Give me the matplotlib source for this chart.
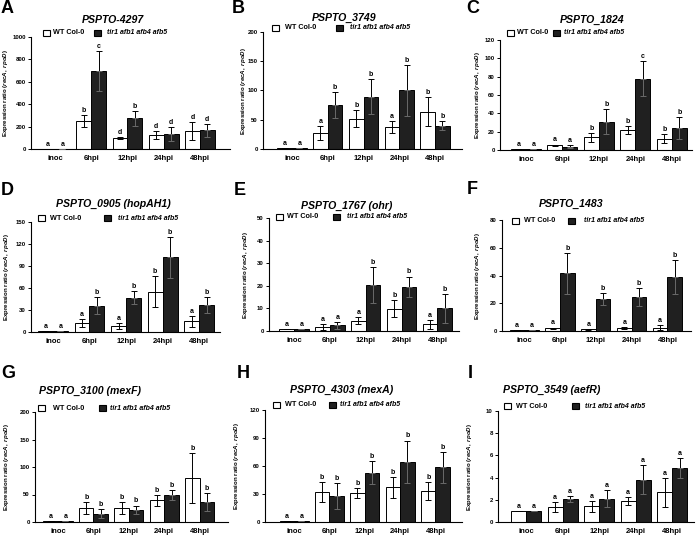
import matplotlib
matplotlib.use('Agg')
import matplotlib.pyplot as plt
from matplotlib.patches import Rectangle

plt.rcParams['font.family'] = ['Liberation Sans', 'DejaVu Sans']
plt.rcParams['font.weight'] = 'bold'
plt.rcParams['mathtext.fontset'] = 'custom'
plt.rcParams['mathtext.it'] = 'Liberation Sans:italic:bold'
plt.rcParams['mathtext.rm'] = 'Liberation Sans:bold'

W, H = 696, 537
categories = ['inoc', '6hpi', '12hpi', '24hpi', '48hpi']
legend_labels = ['WT Col-0', 'tir1 afb1 afb4 afb5']
ylabel_text = r'Expression ratio ($\it{recA},\ \it{rpoD}$)'

# ---- Panel A
A_title = 'PSPTO-4297'
A_wt = [1, 252, 98, 125, 160]
A_wt_err = [0, 52, 12, 38, 80]
A_mut = [1, 697, 273, 133, 169]
A_mut_err = [0, 175, 70, 65, 58]
A_wt_sig = ['a', 'b', 'd', 'd', 'd']
A_mut_sig = ['a', 'c', 'b', 'd', 'd']
A_yticks = [0, 200, 400, 600, 800, 1000]

# ---- Panel B
B_title = 'PSPTO_3749'
B_wt = [1, 28, 52, 37, 64]
B_wt_err = [0, 12, 14, 10.5, 25]
B_mut = [1, 75, 89, 100, 40]
B_mut_err = [0, 22, 30, 43, 8]
B_wt_sig = ['a', 'a', 'b', 'a', 'b']
B_mut_sig = ['a', 'b', 'b', 'b', 'b']
B_yticks = [0, 50, 100, 150, 200]

# ---- Panel C
C_title = 'PSPTO_1824'
C_wt = [1, 5, 13.8, 22, 12.4]
C_wt_err = [0, 1, 5, 4.5, 5]
C_mut = [1, 3.6, 31, 78, 23.6]
C_mut_err = [0, 1.5, 14, 19, 12]
C_wt_sig = ['a', 'a', 'b', 'b', 'b']
C_mut_sig = ['a', 'a', 'b', 'c', 'b']
C_yticks = [0, 20, 40, 60, 80, 100, 120]

# ---- Panel D
D_title = 'PSPTO_0905 (hopAH1)'
D_wt = [1, 11.8, 8, 55, 14.5]
D_wt_err = [0, 5.5, 4, 21.5, 7]
D_mut = [1, 36, 47, 102, 37]
D_mut_err = [0, 11.5, 9, 28, 11]
D_wt_sig = ['a', 'a', 'a', 'b', 'a']
D_mut_sig = ['a', 'b', 'b', 'b', 'b']
D_yticks = [0, 30, 60, 90, 120, 150]

# ---- Panel E
E_title = 'PSPTO_1767 (ohr)'
E_wt = [1, 1.8, 4.6, 9.8, 3]
E_wt_err = [0, 1.4, 1.6, 3.8, 2]
E_mut = [1, 2.5, 20.3, 19.5, 10]
E_mut_err = [0, 1.5, 8, 4.6, 6.5]
E_wt_sig = ['a', 'a', 'a', 'b', 'a']
E_mut_sig = ['a', 'a', 'b', 'b', 'b']
E_yticks = [0, 10, 20, 30, 40, 50]

# ---- Panel F
F_title = 'PSPTO_1483'
F_wt = [1, 2, 1.2, 2, 2.4]
F_wt_err = [0, 0.5, 0.3, 0.8, 1.8]
F_mut = [0.8, 41.5, 23, 24.6, 39]
F_mut_err = [0, 14.7, 4.5, 6.6, 12.4]
F_wt_sig = ['a', 'a', 'a', 'a', 'a']
F_mut_sig = ['a', 'b', 'b', 'b', 'b']
F_yticks = [0, 20, 40, 60, 80]

# ---- Panel G
G_title = 'PSPTO_3100 (mexF)'
G_wt = [1, 25, 25, 39.5, 80]
G_wt_err = [0, 11, 11, 10, 46]
G_mut = [1, 15, 22.5, 48.6, 36.5]
G_mut_err = [0, 8, 7.5, 9, 16]
G_wt_sig = ['a', 'b', 'b', 'b', 'b']
G_mut_sig = ['a', 'b', 'b', 'b', 'b']
G_yticks = [0, 50, 100, 150, 200]

# ---- Panel H
H_title = 'PSPTO_4303 (mexA)'
H_wt = [1, 32, 30.6, 37, 33.5]
H_wt_err = [0, 10.5, 5.3, 11.5, 9.6]
H_mut = [1, 28, 53, 64.8, 58.4]
H_mut_err = [0, 14, 12, 22.5, 17]
H_wt_sig = ['a', 'b', 'b', 'b', 'b']
H_mut_sig = ['a', 'b', 'b', 'b', 'b']
H_yticks = [0, 30, 60, 90, 120]

# ---- Panel I
I_title = 'PSPTO_3549 (aefR)'
I_wt = [1, 1.35, 1.4, 1.89, 2.66]
I_wt_err = [0, 0.48, 0.5, 0.33, 1.33]
I_mut = [1, 2.07, 2.1, 3.8, 4.85]
I_mut_err = [0, 0.24, 0.76, 1.3, 0.9]
I_wt_sig = ['a', 'a', 'a', 'a', 'a']
I_mut_sig = ['a', 'a', 'a', 'a', 'a']
I_yticks = [0, 2, 4, 6, 8, 10]

panel_letters = ['A', 'B', 'C', 'D', 'E', 'F', 'G', 'H', 'I']
titles = [A_title, B_title, C_title, D_title, E_title, F_title, G_title, H_title, I_title]
wts = [A_wt, B_wt, C_wt, D_wt, E_wt, F_wt, G_wt, H_wt, I_wt]
wt_errs = [A_wt_err, B_wt_err, C_wt_err, D_wt_err, E_wt_err, F_wt_err, G_wt_err, H_wt_err, I_wt_err]
muts = [A_mut, B_mut, C_mut, D_mut, E_mut, F_mut, G_mut, H_mut, I_mut]
mut_errs = [A_mut_err, B_mut_err, C_mut_err, D_mut_err, E_mut_err, F_mut_err, G_mut_err, H_mut_err, I_mut_err]
wt_sigs = [A_wt_sig, B_wt_sig, C_wt_sig, D_wt_sig, E_wt_sig, F_wt_sig, G_wt_sig, H_wt_sig, I_wt_sig]
mut_sigs = [A_mut_sig, B_mut_sig, C_mut_sig, D_mut_sig, E_mut_sig, F_mut_sig, G_mut_sig, H_mut_sig, I_mut_sig]
yticks_all = [A_yticks, B_yticks, C_yticks, D_yticks, E_yticks, F_yticks, G_yticks, H_yticks, I_yticks]

# ---- layout (pixels): axes left, right, top, bottom ; xlim
axes_px = [(31, 230, 37, 149), (263, 462, 32, 149), (500, 692, 40, 150),
           (31, 220, 222, 332), (269, 459, 218, 331), (502, 691, 220, 331),
           (35, 228, 412, 522), (265, 462, 410, 522), (498, 694, 411, 522)]
xlims = [(-0.66, 4.83), (-0.81, 4.75), (-0.71, 4.55),
         (-0.6, 4.57), (-0.7, 4.6), (-0.62, 4.66),
         (-0.65, 4.8), (-0.82, 4.75), (-0.77, 4.6)]
title_px = [(113, 20), (344, 18), (592, 20), (113, 204), (347, 206), (571, 204),
            (90, 391), (342, 390), (552, 390)]
letter_px = [(1, 0), (232, 0), (466, 0), (1, 182), (234, 182), (467, 181),
             (1, 365), (237, 365), (468, 365)]
ylabel_x = [6, 243.5, 478, 6.5, 246, 478, 6.5, 236.5, 470]
# white square x, WT text x, dark square x, mutant text x, center y
legend_px = [(43, 53, 94, 107, 33), (272, 285, 336, 350, 28), (507, 517, 553, 564, 33),
             (38, 50, 104, 118, 218), (276, 287, 333, 347, 217), (512, 524, 568, 584, 221),
             (38, 53, 99, 110, 408), (273, 285, 329, 340, 405), (504, 516, 572, 585, 406)]

fig = plt.figure(figsize=(W / 100, H / 100), dpi=100)

def fx(x):
    return x / W

def fy(y):
    return 1 - y / H

bw = 0.41
dark = '#202020'
for i in range(9):
    l, r, t, b = axes_px[i]
    ax = fig.add_axes([fx(l), fy(b), (r - l) / W, (b - t) / H])
    xs = list(range(len(categories)))
    xw = [x - bw / 2 for x in xs]
    xm = [x + bw / 2 for x in xs]
    ax.bar(xw, wts[i], width=bw, color='white', edgecolor='black', linewidth=0.7, zorder=2)
    ax.bar(xm, muts[i], width=bw, color=dark, edgecolor='black', linewidth=0.7, zorder=2)
    zeros = [0] * len(xs)
    ax.errorbar(xw, wts[i], yerr=wt_errs[i], fmt='none', ecolor='black',
                elinewidth=0.7, capsize=2.3, capthick=0.7, zorder=3)
    ax.errorbar(xm, muts[i], yerr=[zeros, mut_errs[i]], fmt='none', ecolor='black',
                elinewidth=0.7, capsize=2.3, capthick=0.7, zorder=3)
    ax.errorbar(xm, muts[i], yerr=[mut_errs[i], zeros], fmt='none', ecolor='#6a6a6a',
                elinewidth=0.7, capsize=2.3, capthick=0.7, zorder=3)
    for x, v, e, s in zip(xw, wts[i], wt_errs[i], wt_sigs[i]):
        ax.annotate(s, (x, v + e), xytext=(0, 2.2), textcoords='offset points',
                    ha='center', va='baseline', fontsize=5, fontweight='bold')
    for x, v, e, s in zip(xm, muts[i], mut_errs[i], mut_sigs[i]):
        ax.annotate(s, (x, v + e), xytext=(0, 2.2), textcoords='offset points',
                    ha='center', va='baseline', fontsize=5, fontweight='bold')
    yt = yticks_all[i]
    ax.set_ylim(0, yt[-1])
    ax.set_yticks(yt)
    ax.set_yticklabels([str(v) for v in yt])
    ax.set_xlim(*xlims[i])
    ax.set_xticks(xs)
    ax.set_xticklabels(categories)
    for sp in ['top', 'right']:
        ax.spines[sp].set_visible(False)
    for sp in ['left', 'bottom']:
        ax.spines[sp].set_linewidth(0.8)
    ax.tick_params(axis='y', length=2.5, width=0.7, pad=1.2, labelsize=4.3)
    ax.tick_params(axis='x', length=0, pad=4.5, labelsize=5.5)
    ax.patch.set_visible(False)

    # title, panel letter, ylabel
    tx, ty = title_px[i]
    fig.text(fx(tx), fy(ty), titles[i], ha='center', va='center', fontsize=7.6,
             fontweight='bold', fontstyle='italic')
    lx, ly = letter_px[i]
    fig.text(fx(lx), fy(ly), panel_letters[i], ha='left', va='top', fontsize=13,
             fontweight='bold')
    fig.text(fx(ylabel_x[i]), fy((t + b) / 2), ylabel_text, rotation=90,
             ha='center', va='center', fontsize=4.4, fontweight='bold')

    # legend
    wx, wtx, bx, mtx, yc = legend_px[i]
    sq = 6.5
    fig.add_artist(Rectangle((fx(wx), fy(yc + sq / 2)), sq / W, sq / H,
                             transform=fig.transFigure, facecolor='white',
                             edgecolor='black', linewidth=0.8))
    fig.add_artist(Rectangle((fx(bx), fy(yc + sq / 2)), sq / W, sq / H,
                             transform=fig.transFigure, facecolor=dark,
                             edgecolor='black', linewidth=0.8))
    fig.text(fx(wtx), fy(yc), legend_labels[0], ha='left', va='center',
             fontsize=5.2, fontweight='bold')
    fig.text(fx(mtx), fy(yc), legend_labels[1], ha='left', va='center',
             fontsize=5, fontweight='bold', fontstyle='italic')

fig.savefig('out.png', dpi=100)
